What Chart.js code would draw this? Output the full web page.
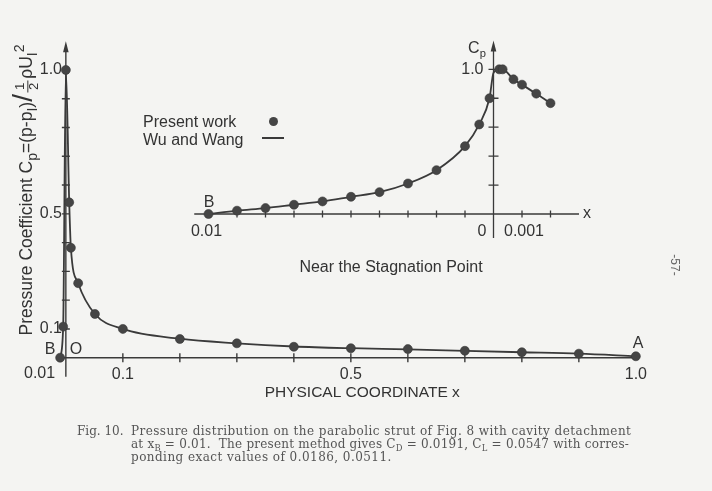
<!DOCTYPE html>
<html lang="en">
<head>
  <meta charset="UTF-8">
  <title>Pressure distribution on the parabolic strut</title>
  <style>
    body {
      margin: 0;
      background: #f4f4f2;
    }
    #wrap {
      position: relative;
      width: 712px;
      height: 491px;
      overflow: hidden;
      font-family: "Liberation Sans", Arial, sans-serif;
      color: #333;
    }
    canvas {
      position: absolute;
      left: 0;
      top: 0;
    }
    .lbl {
      position: absolute;
      font-size: 16px;
      line-height: 1;
      white-space: nowrap;
      transform: translate(-50%, -50%);
    }
    .left {
      transform: translate(0, -50%);
    }
    sub { font-size: 0.7em; vertical-align: -0.35em; line-height: 0; }
    sup { font-size: 0.7em; vertical-align: 0.6em; line-height: 0; }
    #ytitle { font-size: 17.5px; }
    #ytitle sub { font-size: 0.8em; }
    #ytitle sup { font-size: 0.8em; }
    .frac {
      display: inline-block;
      vertical-align: middle;
      font-size: 0.75em;
      line-height: 0.95;
      text-align: center;
      margin: 0 2px;
    }
    .frac span { display: block; }
    .frac span:first-child { border-bottom: 1px solid #333; padding: 0 2px; }
    .caption {
      position: absolute;
      font-family: "DejaVu Serif", "Liberation Serif", serif;
      font-size: 12px;
      letter-spacing: 0.45px;
      color: #555;
      white-space: nowrap;
      line-height: 1;
    }
  </style>
  <script src="https://cdn.jsdelivr.net/npm/chart.js"></script>
</head>
<body>
<div id="wrap">
  <canvas id="main" width="712" height="491"></canvas>
  <canvas id="inset" width="712" height="491"></canvas>

  <div id="ytitle" class="lbl" style="left:25px; top:190px; transform: translate(-50%, -50%) rotate(-90deg);">
    Pressure Coefficient C<sub>p</sub>=(p-p<sub>I</sub>)<span style="font-size:28px; font-weight:300;">/</span><span class="frac"><span>1</span><span>2</span></span>ρU<sub>I</sub><sup>2</sup>
  </div>

  <div class="lbl left" style="left:143px; top:122px;">Present work</div>
  <div class="lbl left" style="left:143px; top:140px;">Wu and Wang</div>
  <div style="position:absolute; left:268.5px; top:116.5px; width:9px; height:9px; border-radius:50%; background:#454545;"></div>
  <div style="position:absolute; left:262px; top:137px; width:22px; height:1.8px; background:#3a3a3a;"></div>

  <div class="lbl" style="left:50px; top:349px;">B</div>
  <div class="lbl" style="left:76px; top:349px;">O</div>
  <div class="lbl" style="left:638px; top:343px;">A</div>

  <div class="lbl" style="left:209px; top:202px;">B</div>
  <div class="lbl" style="left:477px; top:48px;">C<sub>p</sub></div>
  <div class="lbl" style="left:587px; top:213px;">x</div>
  <div class="lbl" style="left:391px; top:267px;">Near the Stagnation Point</div>

  <div class="caption" style="left:77px; top:425px; letter-spacing:0;">Fig. 10.</div>
  <div class="caption" style="left:131px; top:425px;">Pressure distribution on the parabolic strut of Fig. 8 with cavity detachment</div>
  <div class="caption" style="left:131px; top:438px; letter-spacing:0.22px;">at x<sub>B</sub> = 0.01.&nbsp; The present method gives C<sub>D</sub> = 0.0191, C<sub>L</sub> = 0.0547 with corres-</div>
  <div class="caption" style="left:131px; top:451px;">ponding exact values of 0.0186, 0.0511.</div>

  <div class="lbl" style="left:675px; top:265px; font-size:12px; color:#666; transform: translate(-50%, -50%) rotate(90deg);">-57-</div>
</div>

<script>
  // main plot: lower surface (B side) is plotted as negative x
  const mainX = [-0.01, -0.0047, 0, 0.0059, 0.0088, 0.0216, 0.051, 0.1, 0.2, 0.3, 0.4, 0.5, 0.6, 0.7, 0.8, 0.9, 1.0];
  const mainCp = [0, 0.108, 1.0, 0.54, 0.382, 0.259, 0.152, 0.10, 0.065, 0.050, 0.038, 0.033, 0.030, 0.024, 0.019, 0.014, 0.005];
  const wuMainX = [-0.01, -0.0047, 0, 0.0059, 0.0088, 0.0216, 0.051, 0.1, 0.2, 0.3, 0.4, 0.5, 0.6, 0.7, 0.8, 0.9, 1.0];
  const wuMainCp = [0, 0.108, 1.0, 0.54, 0.382, 0.259, 0.152, 0.10, 0.066, 0.050, 0.039, 0.033, 0.029, 0.024, 0.019, 0.014, 0.005];

  // inset: near the stagnation point
  const insetX = [-0.010, -0.009, -0.008, -0.007, -0.006, -0.005, -0.004, -0.003, -0.002, -0.001, -0.0005, -0.00014, 0.0002, 0.00032, 0.0007, 0.001, 0.0015, 0.002];
  const insetCp = [0, 0.023, 0.041, 0.064, 0.087, 0.119, 0.151, 0.211, 0.303, 0.469, 0.619, 0.80, 1.0, 1.0, 0.931, 0.894, 0.832, 0.766];
  const wuInsetX = [-0.010, -0.009, -0.008, -0.007, -0.006, -0.005, -0.004, -0.003, -0.002, -0.001, -0.0005, -0.00014, 0, 0.0002, 0.00032, 0.0007, 0.001, 0.0015, 0.002];
  const wuInsetCp = [0, 0.023, 0.041, 0.064, 0.087, 0.119, 0.151, 0.211, 0.303, 0.469, 0.619, 0.80, 0.975, 1.0, 1.0, 0.931, 0.894, 0.832, 0.766];

  const mainXTicks = [0.1, 0.2, 0.3, 0.4, 0.5, 0.6, 0.7, 0.8, 0.9];
  const mainXLabelVals = [0.1, 0.5, 1.0];
  const mainXLabels = ['0.1', '0.5', '1.0'];
  const mainYTicks = [0.1, 0.2, 0.3, 0.4, 0.5, 0.6, 0.7, 0.8, 0.9, 1.0];
  const mainYLabelVals = [0.1, 0.5, 1.0];
  const mainYLabels = ['0.1', '0.5', '1.0'];

  const insetXTicks = [-0.009, -0.008, -0.007, -0.006, -0.005, -0.004, -0.003, -0.002, -0.001, 0.001, 0.002];
  const insetXLabelVals = [-0.01, 0, 0.001];
  const insetXLabels = ['0.01', '0', '0.001'];
  const insetYTicks = [0.2, 0.4, 0.6, 0.8, 1.0];

  const ink = '#3a3a3a';
  const font16 = { family: '"Liberation Sans", Arial, sans-serif', size: 16 };

  function arrowUp(ctx, x, y) {
    ctx.beginPath();
    ctx.moveTo(x, y);
    ctx.lineTo(x - 2.8, y + 11);
    ctx.lineTo(x + 2.8, y + 11);
    ctx.closePath();
    ctx.fill();
  }

  const pts = (xs, ys) => xs.map((x, i) => ({ x: x, y: ys[i] }));

  const mainAxes = {
    id: 'mainAxes',
    beforeDatasetsDraw(chart) {
      const { ctx, scales: { x, y } } = chart;
      const x0 = x.getPixelForValue(0), y0 = y.getPixelForValue(0);
      ctx.save();
      ctx.strokeStyle = ink;
      ctx.fillStyle = ink;
      ctx.lineWidth = 1.4;
      ctx.beginPath();
      ctx.moveTo(x.getPixelForValue(-0.0115), y0);
      ctx.lineTo(x.getPixelForValue(1.0), y0);
      ctx.moveTo(x0, y.getPixelForValue(-0.066));
      ctx.lineTo(x0, y.getPixelForValue(1.1) + 4);
      mainXTicks.forEach(v => {
        const px = x.getPixelForValue(v);
        ctx.moveTo(px, y0 - 4.5);
        ctx.lineTo(px, y0 + 4.5);
      });
      mainYTicks.forEach(v => {
        const py = y.getPixelForValue(v);
        ctx.moveTo(x0 - 4, py);
        ctx.lineTo(x0 + 4, py);
      });
      ctx.stroke();
      arrowUp(ctx, x0, y.getPixelForValue(1.1));
      ctx.font = '16px "Liberation Sans", Arial, sans-serif';
      ctx.fillStyle = '#333';
      ctx.textAlign = 'right';
      ctx.textBaseline = 'middle';
      ctx.fillText('0.01', x.getPixelForValue(-0.01) - 5, y0 + 16);
      ctx.restore();
    }
  };

  const insetAxes = {
    id: 'insetAxes',
    beforeDatasetsDraw(chart) {
      const { ctx, scales: { x, y } } = chart;
      const x0 = x.getPixelForValue(0), y0 = y.getPixelForValue(0);
      ctx.save();
      ctx.strokeStyle = ink;
      ctx.fillStyle = ink;
      ctx.lineWidth = 1.3;
      ctx.beginPath();
      ctx.moveTo(x.getPixelForValue(-0.0105), y0);
      ctx.lineTo(x.getPixelForValue(0.003), y0);
      ctx.moveTo(x0, y.getPixelForValue(-0.166));
      ctx.lineTo(x0, y.getPixelForValue(1.2) + 4);
      insetXTicks.forEach(v => {
        const px = x.getPixelForValue(v);
        ctx.moveTo(px, y0 - 3.5);
        ctx.lineTo(px, y0 + 3.5);
      });
      insetYTicks.forEach(v => {
        const py = y.getPixelForValue(v);
        ctx.moveTo(x0 - 5, py);
        ctx.lineTo(x0 + 5, py);
      });
      ctx.stroke();
      arrowUp(ctx, x0, y.getPixelForValue(1.2));

      ctx.font = '16px "Liberation Sans", Arial, sans-serif';
      ctx.fillStyle = '#333';
      ctx.textBaseline = 'middle';
      insetXLabelVals.forEach((v, i) => {
        const px = x.getPixelForValue(v);
        if (v === 0) {
          ctx.textAlign = 'right';
          ctx.fillText(insetXLabels[i], px - 7, y0 + 18);
        } else {
          ctx.textAlign = 'center';
          ctx.fillText(insetXLabels[i], px + (v > 0 ? 2 : -2), y0 + 18);
        }
      });
      ctx.textAlign = 'right';
      ctx.fillText('1.0', x0 - 10, y.getPixelForValue(1.0));
      ctx.restore();
    }
  };

  const markStyle = {
    type: 'scatter',
    showLine: false,
    pointRadius: 4.5,
    pointBackgroundColor: '#454545',
    pointBorderColor: '#383838',
    pointBorderWidth: 0.6,
    clip: false,
    order: 0
  };
  const curveStyle = {
    type: 'scatter',
    showLine: true,
    pointRadius: 0,
    borderColor: ink,
    borderWidth: 1.8,
    cubicInterpolationMode: 'monotone',
    clip: false,
    order: 1
  };

  new Chart(document.getElementById('main'), {
    type: 'scatter',
    data: {
      datasets: [
        Object.assign({ label: 'Present work', data: pts(mainX, mainCp) }, markStyle),
        Object.assign({ label: 'Wu and Wang', data: pts(wuMainX, wuMainCp) }, curveStyle)
      ]
    },
    options: {
      responsive: false,
      devicePixelRatio: 1,
      animation: false,
      layout: { padding: { left: 20, right: 50.5, top: 41.2, bottom: 85.3 } },
      plugins: { legend: { display: false }, tooltip: { enabled: false } },
      scales: {
        x: {
          type: 'linear',
          min: -0.005,
          max: 1.045,
          grid: { display: false, drawTicks: false },
          border: { display: false },
          afterBuildTicks: s => { s.ticks = mainXLabelVals.map(v => ({ value: v })); },
          afterFit: s => { s.height = 48; },
          ticks: {
            autoSkip: false,
            maxRotation: 0,
            padding: 7,
            color: '#333',
            font: font16,
            callback: (v, i) => mainXLabels[i]
          },
          title: {
            display: true,
            text: 'PHYSICAL COORDINATE x',
            color: '#333',
            font: { family: font16.family, size: 15.5 },
            padding: { top: 0, bottom: 4 }
          }
        },
        y: {
          type: 'linear',
          min: 0,
          max: 1.1,
          grid: { display: false, drawTicks: false },
          border: { display: false },
          afterBuildTicks: s => { s.ticks = mainYLabelVals.map(v => ({ value: v })); },
          afterFit: s => { s.width = 43; },
          ticks: {
            autoSkip: false,
            padding: 1,
            color: '#333',
            font: font16,
            callback: (v, i) => mainYLabels[i]
          }
        }
      }
    },
    plugins: [mainAxes]
  });

  new Chart(document.getElementById('inset'), {
    type: 'scatter',
    data: {
      datasets: [
        Object.assign({ label: 'Present work', data: pts(insetX, insetCp) }, markStyle),
        Object.assign({ label: 'Wu and Wang', data: pts(wuInsetX, wuInsetCp) }, curveStyle)
      ]
    },
    options: {
      responsive: false,
      devicePixelRatio: 1,
      animation: false,
      layout: { padding: { left: 194.25, right: 133, top: 40.4, bottom: 277 } },
      plugins: { legend: { display: false }, tooltip: { enabled: false } },
      scales: {
        x: { type: 'linear', min: -0.0105, max: 0.003, display: false },
        y: { type: 'linear', min: 0, max: 1.2, display: false }
      }
    },
    plugins: [insetAxes]
  });
</script>
</body>
</html>
